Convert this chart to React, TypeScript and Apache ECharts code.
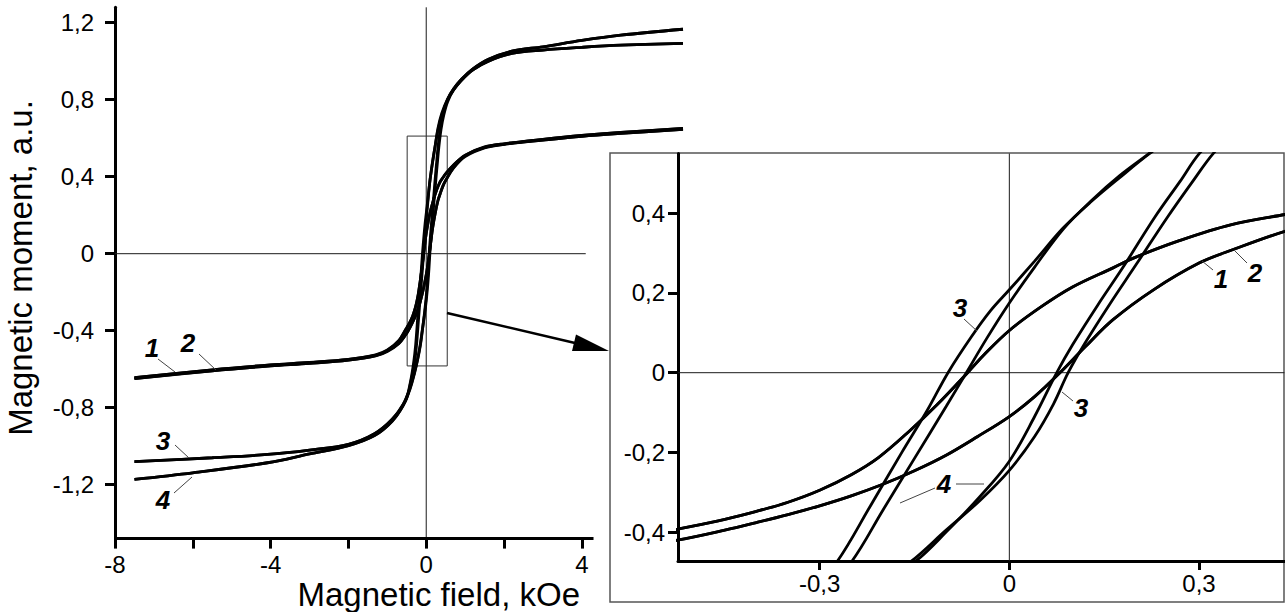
import React, { useEffect, useRef } from 'react';
import * as echarts from 'echarts';

const FONT = '"Liberation Sans", Arial, Helvetica, sans-serif';

// ---- Tick values / labels ----
const mainXTicks = [-8, -6, -4, -2, 0, 2, 4];
const mainXLabels = [-8, -4, 0, 4];
const mainYTicks = [-1.2, -0.8, -0.4, 0, 0.4, 0.8, 1.2];
const insetXTicks = [-0.3, 0, 0.3];
const insetYTicks = [-0.4, -0.2, 0, 0.2, 0.4];

// ---- Axis ranges ----
// the drawn x-axis ends at mainXAxisEnd, while the curves run on to mainXRange[1]
const mainXRange = [-8, 6.6];
const mainXAxisEnd = 4.3;
const mainYRange = [-1.48, 1.28];
const insetXRange = [-0.524, 0.435];
const insetYRange = [-0.4725, 0.55];

// ---- Zoom box drawn in the main chart ----
const zoomBoxX = [-0.49, 0.54];
const zoomBoxY = [-0.583, 0.611];
const mainZeroLineEnd = 4.1;

// ---- Hysteresis loops: [field kOe, moment a.u.] ----
const curve1Desc: number[][] = [[6.6, 0.646], [5, 0.625], [4, 0.61], [3, 0.59], [2, 0.568], [1.5, 0.552], [1, 0.51], [0.7, 0.46], [0.5, 0.415], [0.436, 0.397], [0.35, 0.371], [0.27, 0.332], [0.2, 0.29], [0.164, 0.263], [0.1, 0.215], [0.05, 0.165], [0, 0.106], [-0.04, 0.045], [-0.066, 0], [-0.114, -0.08], [-0.157, -0.145], [-0.207, -0.213], [-0.25, -0.256], [-0.3, -0.295], [-0.35, -0.325], [-0.4, -0.348], [-0.45, -0.368], [-0.525, -0.393], [-0.7, -0.45], [-1, -0.5], [-1.3, -0.525], [-2, -0.549], [-3, -0.565], [-4, -0.578], [-5.5, -0.603], [-7.5, -0.644]];
const curve1Asc: number[][] = [[-7.5, -0.644], [-5.5, -0.603], [-4, -0.578], [-3, -0.565], [-2, -0.549], [-1.3, -0.527], [-1, -0.505], [-0.7, -0.465], [-0.525, -0.42], [-0.45, -0.395], [-0.4, -0.376], [-0.35, -0.356], [-0.3, -0.334], [-0.25, -0.309], [-0.2, -0.28], [-0.15, -0.246], [-0.1, -0.207], [-0.05, -0.16], [0, -0.11], [0.04, -0.06], [0.08, 0], [0.12, 0.065], [0.164, 0.133], [0.228, 0.208], [0.3, 0.275], [0.354, 0.309], [0.436, 0.355], [0.5, 0.38], [0.7, 0.445], [1, 0.505], [1.5, 0.55], [2, 0.568], [3, 0.59], [4, 0.61], [5, 0.625], [6.6, 0.646]];
const curve2Desc: number[][] = [[6.6, 0.651], [5, 0.63], [4, 0.614], [3, 0.594], [2, 0.571], [1.5, 0.555], [1, 0.512], [0.7, 0.461], [0.5, 0.416], [0.436, 0.397], [0.35, 0.371], [0.27, 0.332], [0.2, 0.29], [0.164, 0.263], [0.1, 0.215], [0.05, 0.165], [0, 0.106], [-0.04, 0.045], [-0.066, 0], [-0.114, -0.08], [-0.157, -0.145], [-0.207, -0.213], [-0.25, -0.256], [-0.3, -0.295], [-0.35, -0.325], [-0.4, -0.348], [-0.45, -0.368], [-0.525, -0.393], [-0.7, -0.451], [-1, -0.503], [-1.3, -0.529], [-2, -0.553], [-3, -0.57], [-4, -0.583], [-5.5, -0.608], [-7.5, -0.649]];
const curve2Asc: number[][] = [[-7.5, -0.649], [-5.5, -0.608], [-4, -0.583], [-3, -0.57], [-2, -0.553], [-1.3, -0.531], [-1, -0.508], [-0.7, -0.466], [-0.525, -0.42], [-0.45, -0.395], [-0.4, -0.376], [-0.35, -0.356], [-0.3, -0.334], [-0.25, -0.309], [-0.2, -0.28], [-0.15, -0.246], [-0.1, -0.207], [-0.05, -0.16], [0, -0.11], [0.04, -0.06], [0.08, 0], [0.12, 0.065], [0.164, 0.133], [0.228, 0.208], [0.3, 0.275], [0.354, 0.309], [0.436, 0.355], [0.5, 0.381], [0.7, 0.447], [1, 0.508], [1.5, 0.553], [2, 0.571], [3, 0.594], [4, 0.614], [5, 0.63], [6.6, 0.651]];
const curve3Desc: number[][] = [[6.6, 1.093], [5, 1.083], [4, 1.072], [3, 1.058], [2.2, 1.04], [1.6, 1.0], [1.2, 0.955], [0.9, 0.9], [0.7, 0.85], [0.55, 0.8], [0.4, 0.72], [0.3, 0.64], [0.222, 0.55], [0.175, 0.49], [0.13, 0.43], [0.085, 0.363], [0.04, 0.28], [0, 0.208], [-0.03, 0.155], [-0.06, 0.09], [-0.097, 0], [-0.13, -0.095], [-0.17, -0.2], [-0.22, -0.335], [-0.272, -0.473], [-0.32, -0.56], [-0.4, -0.66], [-0.53, -0.76], [-0.875, -0.86], [-1.33, -0.935], [-2, -0.99], [-3, -1.02], [-4.08, -1.043], [-5.5, -1.06], [-7.5, -1.08]];
const curve3Asc: number[][] = [[-7.5, -1.08], [-5.5, -1.06], [-4.08, -1.043], [-3, -1.02], [-2, -0.99], [-1.33, -0.935], [-0.875, -0.86], [-0.6, -0.785], [-0.42, -0.7], [-0.3, -0.615], [-0.22, -0.545], [-0.155, -0.473], [-0.1, -0.395], [-0.046, -0.32], [0, -0.245], [0.04, -0.16], [0.07, -0.078], [0.093, 0], [0.12, 0.075], [0.16, 0.175], [0.2, 0.27], [0.25, 0.39], [0.29, 0.48], [0.323, 0.551], [0.38, 0.645], [0.45, 0.72], [0.55, 0.79], [0.7, 0.85], [0.9, 0.9], [1.2, 0.955], [1.6, 1.0], [2.2, 1.04], [3, 1.058], [4, 1.072], [5, 1.083], [6.6, 1.093]];
const curve4Desc: number[][] = [[6.6, 1.166], [5, 1.135], [4, 1.108], [3, 1.075], [2.2, 1.052], [1.6, 1.01], [1.2, 0.96], [0.9, 0.905], [0.7, 0.855], [0.55, 0.805], [0.4, 0.73], [0.3, 0.65], [0.225, 0.555], [0.175, 0.495], [0.13, 0.432], [0.085, 0.36], [0.04, 0.265], [0, 0.175], [-0.035, 0.088], [-0.068, 0], [-0.1, -0.085], [-0.15, -0.215], [-0.2, -0.345], [-0.249, -0.473], [-0.3, -0.565], [-0.4, -0.67], [-0.53, -0.765], [-0.875, -0.87], [-1.33, -0.945], [-2, -0.997], [-3, -1.04], [-4.08, -1.086], [-6, -1.138], [-7.5, -1.172]];
const curve4Asc: number[][] = [[-7.5, -1.172], [-6, -1.138], [-4.08, -1.086], [-3, -1.04], [-2, -0.997], [-1.33, -0.945], [-0.875, -0.87], [-0.6, -0.79], [-0.42, -0.705], [-0.3, -0.62], [-0.22, -0.55], [-0.148, -0.473], [-0.1, -0.4], [-0.046, -0.31], [0, -0.222], [0.04, -0.11], [0.075, 0], [0.1, 0.07], [0.14, 0.17], [0.18, 0.265], [0.23, 0.39], [0.27, 0.48], [0.301, 0.551], [0.36, 0.645], [0.43, 0.725], [0.55, 0.8], [0.7, 0.855], [0.9, 0.905], [1.2, 0.96], [1.6, 1.01], [2.2, 1.052], [3, 1.075], [4, 1.108], [5, 1.135], [6.6, 1.166]];

const curves = [
  { name: '1', desc: curve1Desc, asc: curve1Asc },
  { name: '2', desc: curve2Desc, asc: curve2Asc },
  { name: '3', desc: curve3Desc, asc: curve3Asc },
  { name: '4', desc: curve4Desc, asc: curve4Asc },
];

const fmt = (v: number) => String(v).replace('.', ',');

function axisCommon(ticks: number[], labels: number[], fontSize: number, margin: number, tickLen: number, showLine = true) {
  return {
    type: 'value' as const,
    axisLine: { show: showLine, onZero: false, lineStyle: { color: '#000', width: 3 } },
    axisTick: { show: true, length: tickLen, customValues: ticks, lineStyle: { color: '#000', width: 3 } },
    axisLabel: {
      show: true,
      customValues: labels,
      formatter: (v: number) => fmt(v),
      color: '#000',
      fontSize,
      fontFamily: FONT,
      margin,
      showMinLabel: true,
      showMaxLabel: true,
    },
    splitLine: { show: false },
  };
}

function buildOption() {
  const series: any[] = [];
  const thin = (data: number[][], axis: number, clip: boolean, color = '#1a1a1a', width = 1) => ({
    type: 'line',
    xAxisIndex: axis,
    yAxisIndex: axis,
    data,
    symbol: 'none',
    silent: true,
    clip,
    z: 1,
    lineStyle: { color, width },
  });
  // main chart: drawn x-axis baseline (shorter than the data range)
  series.push({ ...thin([[mainXRange[0], mainYRange[0]], [mainXAxisEnd, mainYRange[0]]], 0, false, '#000', 3), z: 4 });
  // main chart reference lines and zoom box
  series.push(thin([[mainXRange[0], 0], [mainZeroLineEnd, 0]], 0, false));
  series.push(thin([[0, mainYRange[0]], [0, mainYRange[1]]], 0, false));
  series.push(thin([
    [zoomBoxX[0], zoomBoxY[0]], [zoomBoxX[1], zoomBoxY[0]], [zoomBoxX[1], zoomBoxY[1]],
    [zoomBoxX[0], zoomBoxY[1]], [zoomBoxX[0], zoomBoxY[0]],
  ], 0, false, '#333', 1));
  // inset reference lines
  series.push(thin([[insetXRange[0], 0], [insetXRange[1], 0]], 1, true));
  series.push(thin([[0, insetYRange[0]], [0, insetYRange[1]]], 1, true));

  for (const axis of [0, 1]) {
    for (const c of curves) {
      for (const branch of [c.desc, c.asc]) {
        series.push({
          type: 'line',
          name: c.name,
          xAxisIndex: axis,
          yAxisIndex: axis,
          data: branch,
          symbol: 'none',
          smooth: 0.35,
          silent: true,
          clip: axis === 1,
          z: 3,
          lineStyle: { color: '#000', width: 2.8 },
        });
      }
    }
  }

  const italic = (text: string, x: number, y: number) => ({
    type: 'text',
    x,
    y,
    z: 10,
    style: {
      text,
      fontSize: 26,
      fontStyle: 'italic',
      fontWeight: 'bold',
      fontFamily: FONT,
      fill: '#000',
      align: 'center',
      verticalAlign: 'middle',
    },
  });
  const leader = (x1: number, y1: number, x2: number, y2: number) => ({
    type: 'line',
    z: 10,
    shape: { x1, y1, x2, y2 },
    style: { stroke: '#444', lineWidth: 1 },
  });

  const graphic: any[] = [
    { type: 'rect', z: 0, shape: { x: 610, y: 153, width: 674, height: 449 }, style: { fill: 'none', stroke: '#555', lineWidth: 1.5 } },
    { type: 'line', z: 10, shape: { x1: 447, y1: 313, x2: 575, y2: 343 }, style: { stroke: '#000', lineWidth: 2.5 } },
    { type: 'polygon', z: 10, shape: { points: [[609, 351], [572, 351], [576, 334.5]] }, style: { fill: '#000' } },
    {
      type: 'text', x: 580, y: 594, z: 10,
      style: { text: 'Magnetic field, kOe', fontSize: 33, fontFamily: FONT, fill: '#000', align: 'right', verticalAlign: 'middle' },
    },
    {
      type: 'text', x: 20, y: 268, rotation: Math.PI / 2, z: 10,
      style: { text: 'Magnetic moment, a.u.', fontSize: 33, fontFamily: FONT, fill: '#000', align: 'center', verticalAlign: 'middle' },
    },
    // main chart curve labels
    italic('1', 152, 348), leader(158, 359, 175, 372),
    italic('2', 188, 343), leader(199, 354, 216, 370),
    italic('3', 163, 441), leader(175, 445, 189, 458),
    italic('4', 163, 500), leader(174, 493, 192, 477),
    // inset curve labels
    italic('3', 960, 308), leader(964, 319, 977, 331),
    italic('1', 1221, 279), leader(1213, 270, 1202, 261),
    italic('2', 1255, 273), leader(1247, 263, 1234, 250),
    italic('3', 1081, 408), leader(1073, 401, 1062, 392),
    italic('4', 944, 484), leader(935, 488, 900, 503), leader(956, 484, 984, 484),
  ];

  return {
    animation: false,
    backgroundColor: '#fff',
    grid: [
      { left: 115, top: 7.3, width: 568, height: 531.3, outerBoundsMode: 'none' },
      { left: 678, top: 153.5, width: 606.4, height: 407.5, outerBoundsMode: 'none' },
    ],
    xAxis: [
      { ...axisCommon(mainXTicks, mainXLabels, 24, 14, 10, false), gridIndex: 0, min: mainXRange[0], max: mainXRange[1] },
      { ...axisCommon(insetXTicks, insetXTicks, 24, 10, 9), gridIndex: 1, min: insetXRange[0], max: insetXRange[1] },
    ],
    yAxis: [
      { ...axisCommon(mainYTicks, mainYTicks, 24, 21, 10), gridIndex: 0, min: mainYRange[0], max: mainYRange[1] },
      { ...axisCommon(insetYTicks, insetYTicks, 24, 13, 10), gridIndex: 1, min: insetYRange[0], max: insetYRange[1] },
    ],
    series,
    graphic,
  };
}

export default function App() {
  const ref = useRef<HTMLDivElement>(null);
  useEffect(() => {
    if (!ref.current) return;
    const chart = echarts.init(ref.current, null, { renderer: 'svg' });
    chart.setOption(buildOption() as any);
    return () => chart.dispose();
  }, []);
  return (
    <div
      ref={ref}
      style={{ position: 'fixed', left: 0, top: 0, width: 1285, height: 612, background: '#fff' }}
    />
  );
}
